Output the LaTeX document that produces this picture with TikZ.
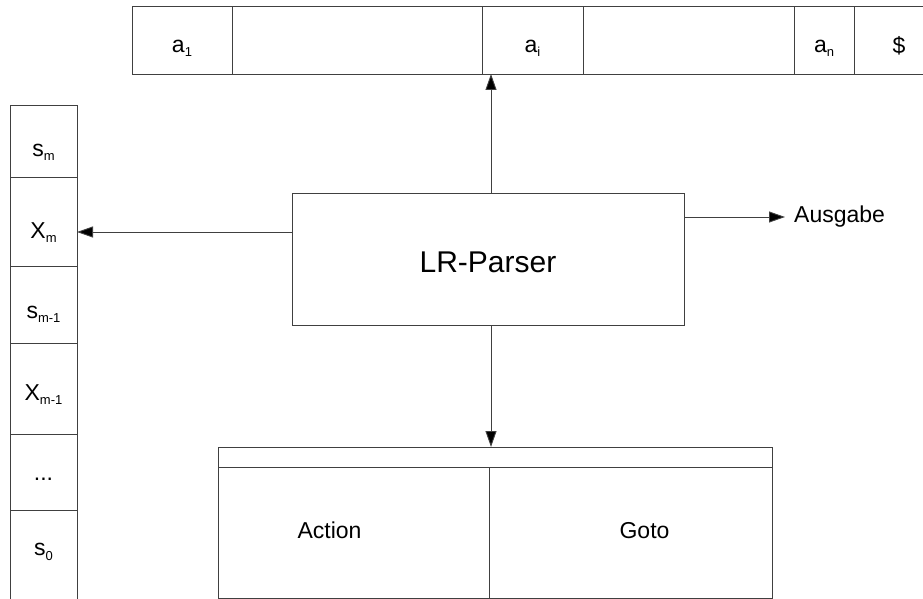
\documentclass[tikz,border=0pt]{standalone}
\usepackage{fontspec}
\setmainfont{Liberation Sans}
\usetikzlibrary{arrows.meta}
\definecolor{linegray}{RGB}{64,64,64}
\newcommand\subidx[1]{\raisebox{-0.35ex}{\fontsize{13}{13}\selectfont #1}}
% move a label up or down without changing the size of its box
\newcommand\lowtxt[2][-7pt]{\raisebox{#1}[\height][\depth]{#2}}
\tikzset{
  cell/.style={draw=linegray, line width=0.9pt, inner sep=0pt, outer sep=0pt,
               font=\fontsize{23}{26}\selectfont},
  lbl/.style={inner sep=0pt, font=\fontsize{23}{26}\selectfont},
  arr/.style={draw=linegray, line width=0.9pt,
              -{Triangle[length=16pt,width=11pt,fill=black]}}
}
\begin{document}
\begin{tikzpicture}[x=1pt, y=-1pt]
\clip (0,0) rectangle (923,599);
\fill[white] (0,0) rectangle (923,599);

% input tape
\node[cell, minimum width=100, minimum height=68] (t1) at (182,40) {\lowtxt[-8pt]{a\subidx{1}}};
\node[cell, minimum width=250, minimum height=68] (t2) at (357,40) {};
\node[cell, minimum width=101, minimum height=68] (t3) at (532.5,40) {\lowtxt[-8pt]{a\subidx{i}}};
\node[cell, minimum width=211, minimum height=68] (t4) at (688.5,40) {};
\node[cell, minimum width=60,  minimum height=68] (t5) at (824,40) {\lowtxt[-8pt]{a\subidx{n}}};
\node[cell, minimum width=90,  minimum height=68] (t6) at (899,40) {\lowtxt[-6pt]{\$}};

% stack
\node[cell, minimum width=67, minimum height=72]   (s1) at (43.5,141)    {\lowtxt[-11pt]{s\subidx{m}}};
\node[cell, minimum width=67, minimum height=89]   (s2) at (43.5,221.5)  {\lowtxt[-11pt]{X\subidx{m}}};
\node[cell, minimum width=67, minimum height=77]   (s3) at (43.5,304.5)  {\lowtxt[-10pt]{s\subidx{m-1}}};
\node[cell, minimum width=67, minimum height=91]   (s4) at (43.5,388.5)  {\lowtxt[-6pt]{X\subidx{m-1}}};
\node[cell, minimum width=67, minimum height=76]   (s5) at (43.5,472)    {\lowtxt[-7pt]{...}};
\node[cell, minimum width=67, minimum height=92]   (s6) at (43.5,556)    {\lowtxt[4pt]{s\subidx{0}}};

% parser
\node[cell, minimum width=392, minimum height=132, font=\fontsize{30}{34}\selectfont]
  (parser) at (488,259) {\lowtxt[-3pt]{LR-Parser}};

% output
\node[lbl, anchor=west, inner xsep=9pt] (out) at (785,217) {Ausgabe};

% parse table
\node[cell, minimum width=554, minimum height=20]  (hdr) at (495,457) {};
\node[cell, minimum width=271, minimum height=131] (act) at (353.5,532.5) {};
\node[cell, minimum width=283, minimum height=131] (gto) at (630.5,532.5) {};
\node[lbl] at ([xshift=-24pt, yshift=2pt]act.center) {Action};
\node[lbl] at ([xshift=14pt, yshift=2pt]gto.center) {Goto};

% connectors
\draw[arr] ([xshift=3pt]parser.north) -- ([xshift=3pt]parser.north |- t3.south);
\draw[arr] ([yshift=27pt]parser.west) -- ([yshift=27pt]parser.west -| s2.east);
\draw[arr] (out.west -| parser.east) -- (out.west);
\draw[arr] ([xshift=3pt]parser.south) -- ([xshift=3pt]parser.south |- hdr.north);
\end{tikzpicture}
\end{document}
